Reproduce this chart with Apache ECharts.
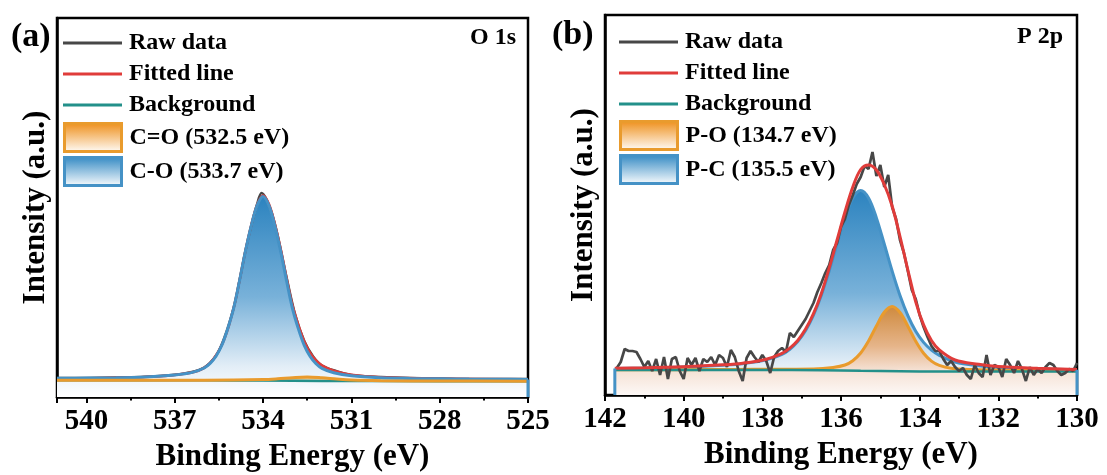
<!DOCTYPE html>
<html>
<head>
<meta charset="utf-8">
<script src="https://cdn.jsdelivr.net/npm/echarts@6/dist/echarts.min.js"></script>
<style>
  html, body { margin: 0; padding: 0; background: #fff; }
  #chart { width: 1107px; height: 475px; }
</style>
</head>
<body>
<div id="chart"></div>
<script>
// ---- (a) O 1s : binding energy (eV) / intensity (a.u.) ----
const aRawE = [525,526,527,528,529,530,531,531.5,532,532.3,532.6,532.9,533.2,533.5,533.7,533.9,534.05,534.2,534.4,534.6,534.8,535,535.3,535.6,536,536.5,537,538,539,540,541];
const aRawI = [17.9,18.1,18.0,18.6,18.9,19.9,22.0,25.8,31.5,40.5,55.9,81.3,119.5,161,183.7,198.5,204,193,171.5,146.3,116.8,89.3,60.5,41.2,29.4,24.5,22.3,20.2,19.5,19.0,18.9];
const aFitE = [525,528,530,531,531.6,532,532.2,532.4,532.6,532.8,533,533.2,533.4,533.6,533.8,534,534.2,534.4,534.6,534.8,535,535.4,536,537,539,541];
const aFitI = [17.8,18.4,19.7,22.2,26.2,31.7,36.6,44.2,55.5,72,91.6,118.8,148,173.3,193,201.6,192.4,172,146,116.5,88.9,52,29.1,22.1,19.3,18.8];
const aBgE = [525,530,532,534,536,541];
const aBgI = [15.8,15.9,16.1,16.4,16.7,16.8];
const aCOE = [525,526,527,528,529,530,531,531.6,532,532.2,532.4,532.6,532.8,533,533.2,533.4,533.6,533.8,534,534.2,534.4,534.6,534.8,535,535.2,535.4,535.6,535.8,536,536.4,537,538,539,540,541];
const aCOI = [17.6,17.7,17.9,18.2,18.6,19.3,21.2,24.2,28.6,33.2,40.5,51.6,68.1,88.4,116,145.4,171.2,191.4,200.6,191.6,171.4,145.6,116.2,88.6,68.3,51.8,40.8,33.6,29.0,24.6,22.0,20.0,19.2,18.9,18.7];
const aCdOE = [525,528,530,531,531.5,532,532.5,533,533.5,534,535,537,541];
const aCdOI = [15.8,16.0,16.3,16.9,17.9,19.2,20.0,19.3,18.2,17.4,16.9,16.8,16.8];

// ---- (b) P 2p ----
const bRawE = [141.7,141.6,141.5,141.4,141.3,141.2,141.1,141.0,140.9,140.8,
  140.7,140.6,140.5,140.4,140.3,140.2,140.1,140.0,139.9,139.8,
  139.7,139.6,139.5,139.4,139.3,139.2,139.1,139.0,138.9,138.8,
  138.7,138.6,138.5,138.4,138.3,138.2,138.1,138.0,137.9,137.8,
  137.7,137.6,137.5,137.4,137.3,137.2,137.1,137.0,136.9,136.8,
  136.7,136.6,136.5,136.4,136.3,136.2,136.1,136.0,135.9,135.8,
  135.7,135.6,135.5,135.4,135.3,135.2,135.1,135.0,134.9,134.8,
  134.7,134.6,134.5,134.4,134.3,134.2,134.1,134.0,133.9,133.8,
  133.7,133.6,133.5,133.4,133.3,133.2,133.1,133.0,132.9,132.8,
  132.7,132.6,132.5,132.4,132.3,132.2,132.1,132.0,131.9,131.8,
  131.7,131.6,131.5,131.4,131.3,131.2,131.1,131.0,130.9,130.8,
  130.7,130.6,130.5,130.4,130.3,130.2,130.1,130.0];
const bRawI = [27,33,46,44,44,43,36,28,34,24,
  36,20,38,16,36,38,24,16,37,30,
  37,24,36,33,38,30,40,37,28,45,
  38,24,14,37,44,38,33,40,34,22,
  38,44,47,43,62,58,64,70,76,84,
  92,103,112,122,130,145,152,168,176,190,
  200,211,218,229,226,243,219,230,208,220,
  188,176,155,142,124,105,96,80,68,58,
  49,44,44,36,30,34,28,24,27,20,
  16,30,22,18,40,20,30,28,18,36,
  30,22,34,26,14,28,20,26,22,28,
  32,30,24,20,22,26,24,32];
const bFitE = [130,131,132,132.5,133.1,133.5,133.7,133.9,134.1,134.3,134.5,134.7,134.9,135.1,135.3,135.5,135.7,135.9,136.1,136.3,136.5,136.7,136.9,137.1,137.3,137.5,137.9,138.5,139,140,141,141.75];
const bFitI = [25.5,26.7,28.4,30.7,35,45.1,54.5,70.1,93.2,125,158.5,189,210.5,225,230,225.5,208,183,155,127,101.6,81.3,65.9,54.5,46.9,41.7,35.8,31.8,30.2,28.3,27.2,26.8];
const bBgE = [130,133.5,134.5,135.5,136.5,138,141.75];
const bBgI = [23.4,23.5,23.8,24.3,24.8,25,25];
const bPCE = [130,131,132,132.5,133.1,133.5,133.7,133.9,134.1,134.3,134.5,134.7,134.9,135.1,135.3,135.5,135.7,135.9,136.1,136.3,136.5,136.7,136.9,137.1,137.3,137.5,137.9,138.5,139,140,141,141.75];
const bPCI = [25.2,26.2,27.6,29.2,33,39.7,44.8,52.6,63.7,79.4,99.5,124,151,177.1,197,204.5,197,177.1,151.2,124.3,99.8,79.9,64.4,53.4,45.7,40.7,35.1,31.3,29.8,28,27,26.6];
const bPOE = [130,131.7,132.7,133.2,133.5,133.7,133.9,134.1,134.3,134.5,134.7,134.9,135.1,135.3,135.5,135.7,135.9,136.2,136.7,137.7,138.7,140,141.75];
const bPOI = [24.2,24.6,25.4,26.7,29.6,33.9,41.8,53.8,68.8,82.5,88.5,82.7,69,54,42,34.3,30,27.5,26,25.8,25.5,25.3,25.2];

const zip = (xs, ys) => xs.map((x, i) => [x, ys[i]]);
const FONT = '"Liberation Serif", "Times New Roman", serif';
const COL = { raw: "#474747", fit: "#e03c3a", bg: "#23908a", orange: "#e99b2d", blue: "#4592c6" };

const grad = stops => new echarts.graphic.LinearGradient(0, 0, 0, 1, stops.map(s => ({ offset: s[0], color: s[1] })));

const boldText = size => ({ fontFamily: FONT, fontWeight: "bold", fontSize: size, color: "#000" });

function line(name, data, color, width, gi, extra) {
  return Object.assign({
    name, type: "line", data, xAxisIndex: gi, yAxisIndex: gi,
    smooth: 0.35, showSymbol: false, symbol: "none", silent: true,
    lineStyle: { color, width }, itemStyle: { color }
  }, extra || {});
}

function xAxis(gi, min, max, interval, hideMax) {
  return {
    gridIndex: gi, type: "value", min, max, interval, inverse: true,
    axisLine: { onZero: false, lineStyle: { color: "#000", width: 2.5 } },
    axisTick: { length: 6, lineStyle: { color: "#000", width: 2 } },
    minorTick: { show: true, splitNumber: 2, length: 3.5, lineStyle: { color: "#000", width: 2 } },
    axisLabel: Object.assign(boldText(29), { margin: 10, showMaxLabel: !hideMax }),
    splitLine: { show: false },
    name: "Binding Energy (eV)", nameLocation: "middle", nameGap: 44,
    nameTextStyle: boldText(31)
  };
}

function yAxis(gi, max) {
  return {
    gridIndex: gi, type: "value", min: 0, max,
    axisLine: { show: true, lineStyle: { color: "#000", width: 2.5 } },
    axisTick: { show: false }, axisLabel: { show: false }, splitLine: { show: false },
    name: "Intensity (a.u.)", nameLocation: "middle", nameGap: 6,
    nameTextStyle: boldText(31)
  };
}

const blueFill = () => grad([[0, "#2c83bf"], [0.5, "#78b1d9"], [0.85, "#e3eef7"], [1, "#ffffff"]]);
const legendBlue = () => grad([[0, "#2f87c2"], [1, "#ffffff"]]);
const legendOrange = () => grad([[0, "#ee8c14"], [1, "#ffffff"]]);

function lineLegend(left, top) {
  return {
    left, top, orient: "vertical", icon: "rect", itemWidth: 59, itemHeight: 3, itemGap: 7,
    selectedMode: false,
    textStyle: Object.assign(boldText(24), { lineHeight: 24, padding: [0, 0, 0, 2] }),
    data: [
      { name: "Raw data", itemStyle: { color: COL.raw, borderWidth: 0 } },
      { name: "Fitted line", itemStyle: { color: COL.fit, borderWidth: 0 } },
      { name: "Background", itemStyle: { color: COL.bg, borderWidth: 0 } }
    ]
  };
}

function patchLegend(left, top, names) {
  return {
    left, top, orient: "vertical", icon: "rect", itemWidth: 57, itemHeight: 28, itemGap: 3,
    selectedMode: false,
    textStyle: Object.assign(boldText(24), { lineHeight: 24, padding: [0, 0, 0, 3] }),
    data: [
      { name: names[0], itemStyle: { color: legendOrange(), borderColor: COL.orange, borderWidth: 3 } },
      { name: names[1], itemStyle: { color: legendBlue(), borderColor: COL.blue, borderWidth: 3 } }
    ]
  };
}

const chart = echarts.init(document.getElementById("chart"));
chart.setOption({
  animation: false,
  backgroundColor: "#fff",
  grid: [
    { left: 57, top: 18, width: 471, height: 379, show: true, borderColor: "#000", borderWidth: 2.5, outerBoundsMode: "none" },
    { left: 605, top: 15, width: 472, height: 380, show: true, borderColor: "#000", borderWidth: 2.5, outerBoundsMode: "none" }
  ],
  xAxis: [xAxis(0, 525, 541, 3, true), xAxis(1, 130, 142, 2, false)],
  yAxis: [yAxis(0, 379), yAxis(1, 380)],
  legend: [
    lineLegend(58, 26),
    patchLegend(58, 117, ["C=O (532.5 eV)", "C-O (533.7 eV)"]),
    lineLegend(614, 25),
    patchLegend(614, 115, ["P-O (134.7 eV)", "P-C (135.5 eV)"])
  ],
  graphic: [
    { type: "text", left: 11, top: 20, style: { text: "(a)", font: `bold 34px ${FONT}`, fill: "#000" } },
    { type: "text", right: 591, top: 26, style: { text: "O 1s", font: `bold 24px ${FONT}`, fill: "#000" } },
    { type: "text", left: 552, top: 18, style: { text: "(b)", font: `bold 34px ${FONT}`, fill: "#000" } },
    { type: "text", right: 44, top: 25, style: { text: "P 2p", font: `bold 24px ${FONT}`, fill: "#000" } }
  ],
  series: [
    // panel (a)
    line("Raw data", zip(aRawE, aRawI), COL.raw, 2.5, 0),
    line("Fitted line", zip(aFitE, aFitI), COL.fit, 2.5, 0),
    line("Background", zip(aBgE, aBgI), COL.bg, 2.5, 0),
    line("C-O (533.7 eV)", zip(aCOE, aCOI), COL.blue, 3, 0, { areaStyle: { color: blueFill(), opacity: 1 } }),
    line("C=O (532.5 eV)", zip(aCdOE, aCdOI), COL.orange, 3, 0, {
      areaStyle: { color: grad([[0, "#e8951f"], [0.3, "rgba(255,255,255,0)"]]), opacity: 1 }
    }),
    line("edge-a", [[aCOE[0], 0], [aCOE[0], aCOI[0]]], COL.blue, 3, 0, { smooth: false }),
    // panel (b)
    line("P-C (135.5 eV)", zip(bPCE, bPCI), COL.blue, 3, 1, { areaStyle: { color: blueFill(), opacity: 1 } }),
    line("P-O (134.7 eV)", zip(bPOE, bPOI), COL.orange, 3, 1, {
      areaStyle: { color: grad([[0, "#cf8a3e"], [0.45, "#e6b58a"], [0.72, "#f5e1d4"], [1, "#fdf8f6"]]), opacity: 1 }
    }),
    line("Background", zip(bBgE, bBgI), COL.bg, 2.5, 1),
    line("Raw data", zip(bRawE, bRawI), COL.raw, 2.7, 1, { smooth: false }),
    line("Fitted line", zip(bFitE, bFitI), COL.fit, 3, 1),
    line("edge-b1", [[bPCE[0], 0], [bPCE[0], bPCI[0]]], COL.blue, 3, 1, { smooth: false }),
    line("edge-b2", [[bPCE[bPCE.length - 1], 0], [bPCE[bPCE.length - 1], bPCI[bPCI.length - 1]]], COL.blue, 3, 1, { smooth: false })
  ]
});
</script>
</body>
</html>
